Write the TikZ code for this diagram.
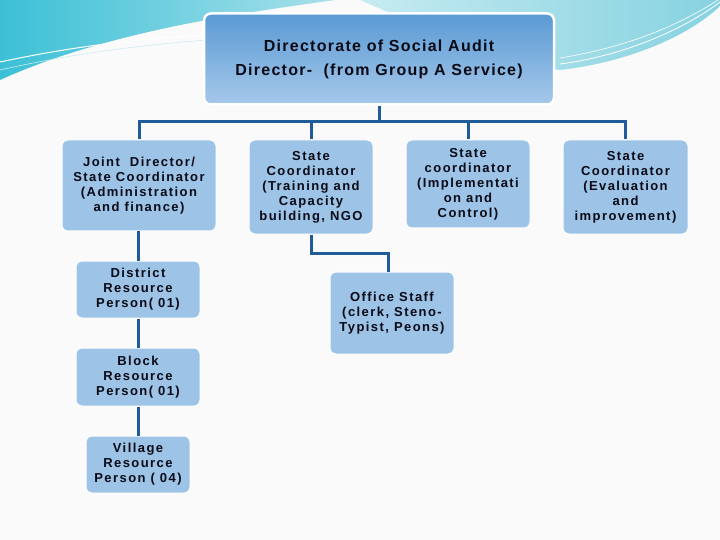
\documentclass[tikz,border=0pt]{standalone}
\usepackage{fontspec}
\setmainfont{Liberation Sans}
\newfontfamily\bxfont[LetterSpace=11]{Liberation Sans}
\newfontfamily\hdfont[LetterSpace=8]{Liberation Sans}
\usetikzlibrary{positioning}
\definecolor{boxblue}{HTML}{9DC3E6}
\definecolor{linkblue}{HTML}{1F5C99}
\definecolor{txt}{HTML}{0A0A16}
\definecolor{tealA}{HTML}{3CC0D6}
\definecolor{tealB}{HTML}{A8E0EA}
\definecolor{cyanA}{HTML}{C6EBF1}
\definecolor{cyanB}{HTML}{86D2E0}
\definecolor{hdtop}{HTML}{5A9AD4}
\definecolor{hdbot}{HTML}{A6C8EA}
\tikzset{
  orgbox/.style={draw=white, line width=1pt, fill=boxblue, rounded corners=6pt,
    align=center, inner sep=2pt, text=txt,
    font=\bxfont\bfseries\fontsize{13}{15}\selectfont},
  link/.style={draw=linkblue, line width=3pt},
}
\begin{document}
\begin{tikzpicture}[x=1pt,y=-1pt]
\useasboundingbox (0,0) rectangle (720,540);
\fill[white!96!gray] (0,0) rectangle (720,540);
% decorative swooshes
\shade[left color=tealA, right color=tealB]
  (0,0) -- (335,0) .. controls (250,12) and (110,30) .. (0,80) -- cycle;
\draw[white, line width=1pt] (0,62) .. controls (80,45) and (160,35) .. (260,33);
\draw[tealB!60!white, line width=0.6pt] (0,70) .. controls (80,52) and (170,40) .. (280,36);
\shade[left color=cyanA, right color=cyanB]
  (360,0) .. controls (430,30) and (500,62) .. (560,70)
  .. controls (630,62) and (690,35) .. (720,6) -- (720,0) -- cycle;
\draw[white, line width=0.8pt] (560,64) .. controls (630,55) and (690,25) .. (720,2);
\draw[white, line width=0.6pt] (560,58) .. controls (640,45) and (690,18) .. (718,0);
% top box
\node[draw=white, line width=2.5pt, rounded corners=7pt, top color=hdtop, bottom color=hdbot,
  minimum width=350pt, minimum height=91pt, align=center, text=txt,
  font=\hdfont\bfseries\fontsize{16}{24}\selectfont] (top) at (379,59)
  {Directorate of Social Audit\\Director-\ \ (from Group A Service)};
% level 1
\node[orgbox, minimum width=154pt, minimum height=91pt] (b1) at (139,185.5)
  {Joint\ \ Director/\\State Coordinator\\(Administration\\and finance)};
\node[orgbox, minimum width=124pt, minimum height=94pt] (b2) at (311,187)
  {State\\Coordinator\\(Training and\\Capacity\\building, NGO};
\node[orgbox, minimum width=124pt, minimum height=88pt] (b3) at (468,184)
  {State\\coordinator\\(Implementati\\on and\\Control)};
\node[orgbox, minimum width=125pt, minimum height=94pt] (b4) at (625.5,187)
  {State\\Coordinator\\(Evaluation\\and\\improvement)};
% left chain
\node[orgbox, minimum width=124pt, minimum height=57pt] (d) at (138,289.5)
  {District\\Resource\\Person( 01)};
\node[orgbox, minimum width=124pt, minimum height=58pt] (bl) at (138,377)
  {Block\\Resource\\Person( 01)};
\node[orgbox, minimum width=104pt, minimum height=57pt] (v) at (138,464.5)
  {Village\\Resource\\Person ( 04)};
% office staff
\node[orgbox, minimum width=124pt, minimum height=82pt] (o) at (392,313)
  {Office Staff\\(clerk, Steno-\\Typist, Peons)};
% connectors
\coordinate (bus) at (379,122);
\coordinate (elb) at (0,253);
\draw[link] (top.south) -- (bus);
\draw[link] (b1.north) |- (bus) -| (b4.north);
\draw[link] (b2.north) -- (b2.north |- bus);
\draw[link] (b3.north) -- (b3.north |- bus);
\draw[link] (d.north |- b1.south) -- (d.north);
\draw[link] (d.south) -- (bl.north);
\draw[link] (bl.south) -- (v.north);
\draw[link] (b2.south) -- (b2.south |- elb) -| ([xshift=-4pt]o.north);
\end{tikzpicture}
\end{document}
